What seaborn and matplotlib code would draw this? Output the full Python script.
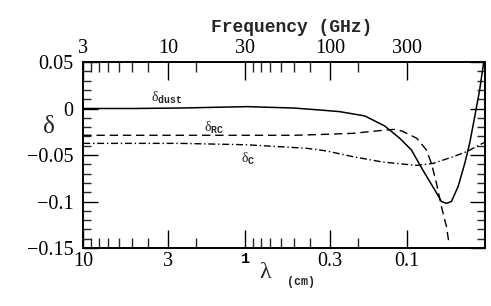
import numpy as np
import pandas as pd
import matplotlib
matplotlib.use("Agg")
import matplotlib.pyplot as plt
import seaborn as sns
from matplotlib.ticker import FixedLocator, NullFormatter
from matplotlib.font_manager import FontProperties

# ---- data ----
lam_dust = [10, 5, 2.53, 0.976, 0.5, 0.346, 0.26, 0.1824, 0.1374, 0.111, 0.094,
            0.080, 0.0674, 0.0613, 0.0571, 0.0532, 0.0484, 0.044, 0.041, 0.0382,
            0.0356, 0.0336]
delta_dust = [0.0, 0.0, 0.0005, 0.002, 0.0005, -0.0016, -0.0034, -0.008, -0.0188,
              -0.032, -0.0446, -0.066, -0.0876, -0.100, -0.102, -0.100, -0.084,
              -0.059, -0.037, -0.0088, 0.02, 0.05]

lam_rc = [10, 3, 1, 0.5, 0.346, 0.26, 0.216, 0.1334, 0.12, 0.1076, 0.0871,
          0.0759, 0.0707, 0.0659, 0.0613, 0.0571, 0.0553]
delta_rc = [-0.0288, -0.0288, -0.0288, -0.0288, -0.028, -0.0272, -0.0267, -0.023,
            -0.0225, -0.0242, -0.032, -0.0446, -0.059, -0.080, -0.1056, -0.127,
            -0.143]

lam_c = [10, 2.53, 0.976, 0.416, 0.313, 0.216, 0.1475, 0.1334, 0.0875, 0.069,
         0.0522, 0.0428, 0.0341, 0.033]
delta_c = [-0.0375, -0.0375, -0.039, -0.0428, -0.0457, -0.0518, -0.057, -0.058,
           -0.0612, -0.059, -0.052, -0.0464, -0.0374, -0.036]

lam_major = [10, 3, 1, 0.3, 0.1]
lam_major_labels = ["10", "3", "1", "0.3", "0.1"]
freq_labels = ["3", "10", "30", "100", "300"]
lam_minor = [9, 8, 7, 6, 5, 4, 2, 0.9, 0.8, 0.7, 0.6, 0.5, 0.4, 0.2]
y_major = [0.05, 0.0, -0.05, -0.1, -0.15]
y_major_labels = ["0.05", "0", "\u22120.05", "\u22120.1", "\u22120.15"]

# ---- style ----
sns.set_theme(style="ticks")
plt.rcParams["font.family"] = ["Liberation Serif", "DejaVu Sans"]
plt.rcParams["mathtext.fontset"] = "custom"
plt.rcParams["mathtext.rm"] = "Liberation Serif"
plt.rcParams["mathtext.it"] = "Liberation Serif:italic"
plt.rcParams["mathtext.bf"] = "Liberation Serif:bold"
plt.rcParams["mathtext.tt"] = "Liberation Mono:bold"
plt.rcParams["mathtext.default"] = "rm"

fig = plt.figure(figsize=(4.91, 3.06), dpi=100)
fig.patch.set_facecolor("white")
ax = fig.add_axes([83.3 / 491, 1 - 248 / 306, (485 - 83.3) / 491, (248 - 62) / 306])
ax.set_facecolor("white")

df_dust = pd.DataFrame({"lam": lam_dust, "delta": delta_dust})
df_rc = pd.DataFrame({"lam": lam_rc, "delta": delta_rc})
df_c = pd.DataFrame({"lam": lam_c, "delta": delta_c})

sns.lineplot(data=df_dust, x="lam", y="delta", ax=ax, color="black", lw=1.1,
             sort=False, estimator=None)
sns.lineplot(data=df_rc, x="lam", y="delta", ax=ax, color="black", lw=1.0,
             sort=False, estimator=None)
ax.lines[-1].set_dashes((6, 3.5))
sns.lineplot(data=df_c, x="lam", y="delta", ax=ax, color="black", lw=1.0,
             sort=False, estimator=None)
ax.lines[-1].set_dashes((5, 2, 1, 2))

ax.set_xscale("log")
ax.set_xlim(10, 0.033)
ax.set_ylim(-0.15, 0.05)
ax.set_xlabel("")
ax.set_ylabel("")

ax.xaxis.set_major_locator(FixedLocator(lam_major))
ax.xaxis.set_minor_locator(FixedLocator(lam_minor))
ax.xaxis.set_minor_formatter(NullFormatter())
ax.set_xticklabels(lam_major_labels)
ax.yaxis.set_major_locator(FixedLocator(y_major))
ax.yaxis.set_minor_locator(FixedLocator(np.round(np.arange(-0.15, 0.0501, 0.01), 3)))
ax.set_yticklabels(y_major_labels)

for sp in ax.spines.values():
    sp.set_linewidth(1.2)
    sp.set_color("black")

ax.tick_params(axis="x", which="major", direction="in", length=13, width=1.0,
               pad=3, labelsize=14.5, colors="black", top=False)
ax.tick_params(axis="x", which="minor", direction="in", length=7, width=1.0,
               top=False)
ax.tick_params(axis="y", which="major", direction="in", length=11, width=1.0,
               pad=7, labelsize=14.5, colors="black", right=True)
ax.tick_params(axis="y", which="minor", direction="in", length=6, width=1.0,
               right=True)

# the "1" label in bold typewriter
labs = ax.get_xticklabels()
labs[2].set_fontproperties(FontProperties(family="Liberation Mono", weight="bold", size=11))

# top axis: frequency
axt = ax.twiny()
axt.set_xscale("log")
axt.set_xlim(ax.get_xlim())
axt.xaxis.set_major_locator(FixedLocator(lam_major))
axt.xaxis.set_minor_locator(FixedLocator(lam_minor))
axt.xaxis.set_minor_formatter(NullFormatter())
axt.set_xticklabels(freq_labels)
axt.tick_params(axis="x", which="major", direction="in", length=13, width=1.0,
                pad=3, labelsize=14.5, colors="black")
axt.tick_params(axis="x", which="minor", direction="in", length=7, width=1.0)
for sp in axt.spines.values():
    sp.set_linewidth(1.2)
    sp.set_color("black")

# curve labels
ax.text(3.04, 0.0113, r"$\delta_{\mathtt{dust}}$", fontsize=10, ha="center", va="center")
ax.text(1.56, -0.0205, r"$\delta_{\mathtt{RC}}$", fontsize=10, ha="center", va="center")
ax.text(0.962, -0.0545, r"$\delta_{\mathtt{C}}$", fontsize=10, ha="center", va="center")

# axis labels
fig.text(292 / 491, 1 - 27 / 306, "Frequency (GHz)", family="Liberation Mono",
         weight="bold", fontsize=13, ha="center", va="center")
fig.text(265 / 491, 1 - 272 / 306, "\u03bb", fontsize=17, ha="center", va="center")
fig.text(301 / 491, 1 - 282 / 306, "(cm)", family="Liberation Mono", weight="bold",
         fontsize=8.5, ha="center", va="center")
fig.text(49 / 491, 1 - 127 / 306, "\u03b4", fontsize=18, ha="center", va="center")

fig.savefig("out.png", dpi=100, facecolor="white")
